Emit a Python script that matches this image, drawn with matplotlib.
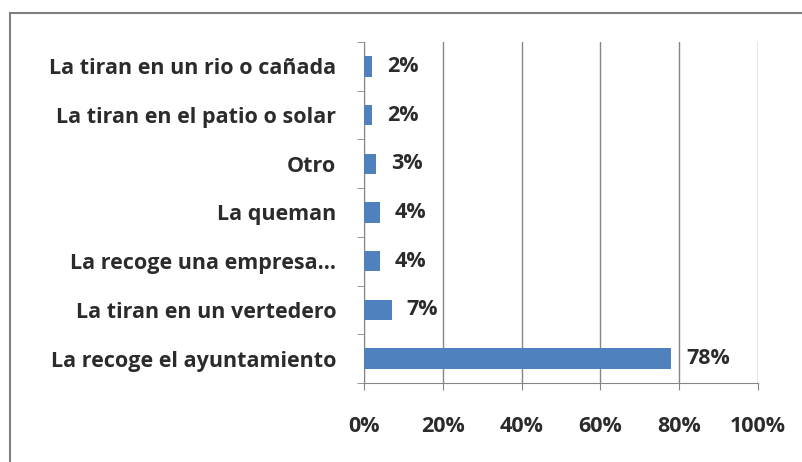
import matplotlib.pyplot as plt
from matplotlib.patches import Rectangle

categories = ['La recoge el ayuntamiento', 'La tiran en un vertedero', 'La recoge una empresa...',
              'La queman', 'Otro', 'La tiran en el patio o solar', 'La tiran en un rio o cañada']
values = [78, 7, 4, 4, 3, 2, 2]
ticks = [0, 20, 40, 60, 80, 100]

plt.rcParams['font.family'] = ['Open Sans', 'DejaVu Sans']
plt.rcParams['font.weight'] = 'bold'
fs = 15.5
txt = '#2b2b2b'

fig = plt.figure(figsize=(8.02, 4.62), dpi=100)
W, H = 802, 462
ax = fig.add_axes([364 / W, 1 - 383 / H, 394 / W, 341 / H])

bar_color = '#4F81BD'
ypos = range(len(categories))
ax.barh(ypos, values, height=0.42, color=bar_color, zorder=3)
for y, v in zip(ypos, values):
    ax.text(v + 3.8, y, f'{v}%', va='center', ha='left', fontsize=fs,
            fontweight='bold', color=txt)

ax.set_xlim(0, 100)
ax.set_ylim(-0.5, len(categories) - 0.5)
ax.set_xticks(ticks)
ax.set_xticklabels([f'{t}%' for t in ticks], fontsize=fs, fontweight='bold', color=txt)
ax.set_yticks(list(ypos))
ax.set_yticklabels(categories, fontsize=fs, fontweight='bold', color=txt)
ax.set_yticks([i - 0.5 for i in range(len(categories) + 1)], minor=True)
ax.tick_params(axis='y', which='major', length=0, pad=20)
ax.tick_params(axis='y', which='minor', length=5, color='#868686', direction='out')
ax.tick_params(axis='x', length=5, color='#868686', direction='out', pad=19)

ax.grid(axis='x', color='#868686', linewidth=1, zorder=0)
for s in ['top', 'right']:
    ax.spines[s].set_visible(False)
for s in ['left', 'bottom']:
    ax.spines[s].set_color('#868686')

fig.patches.append(Rectangle((10 / W, -0.1), 1.2, 1 - 13 / H + 0.1, transform=fig.transFigure,
                             fill=False, edgecolor='#7f7f7f', linewidth=1.5))

fig.savefig('out.png', dpi=100)
